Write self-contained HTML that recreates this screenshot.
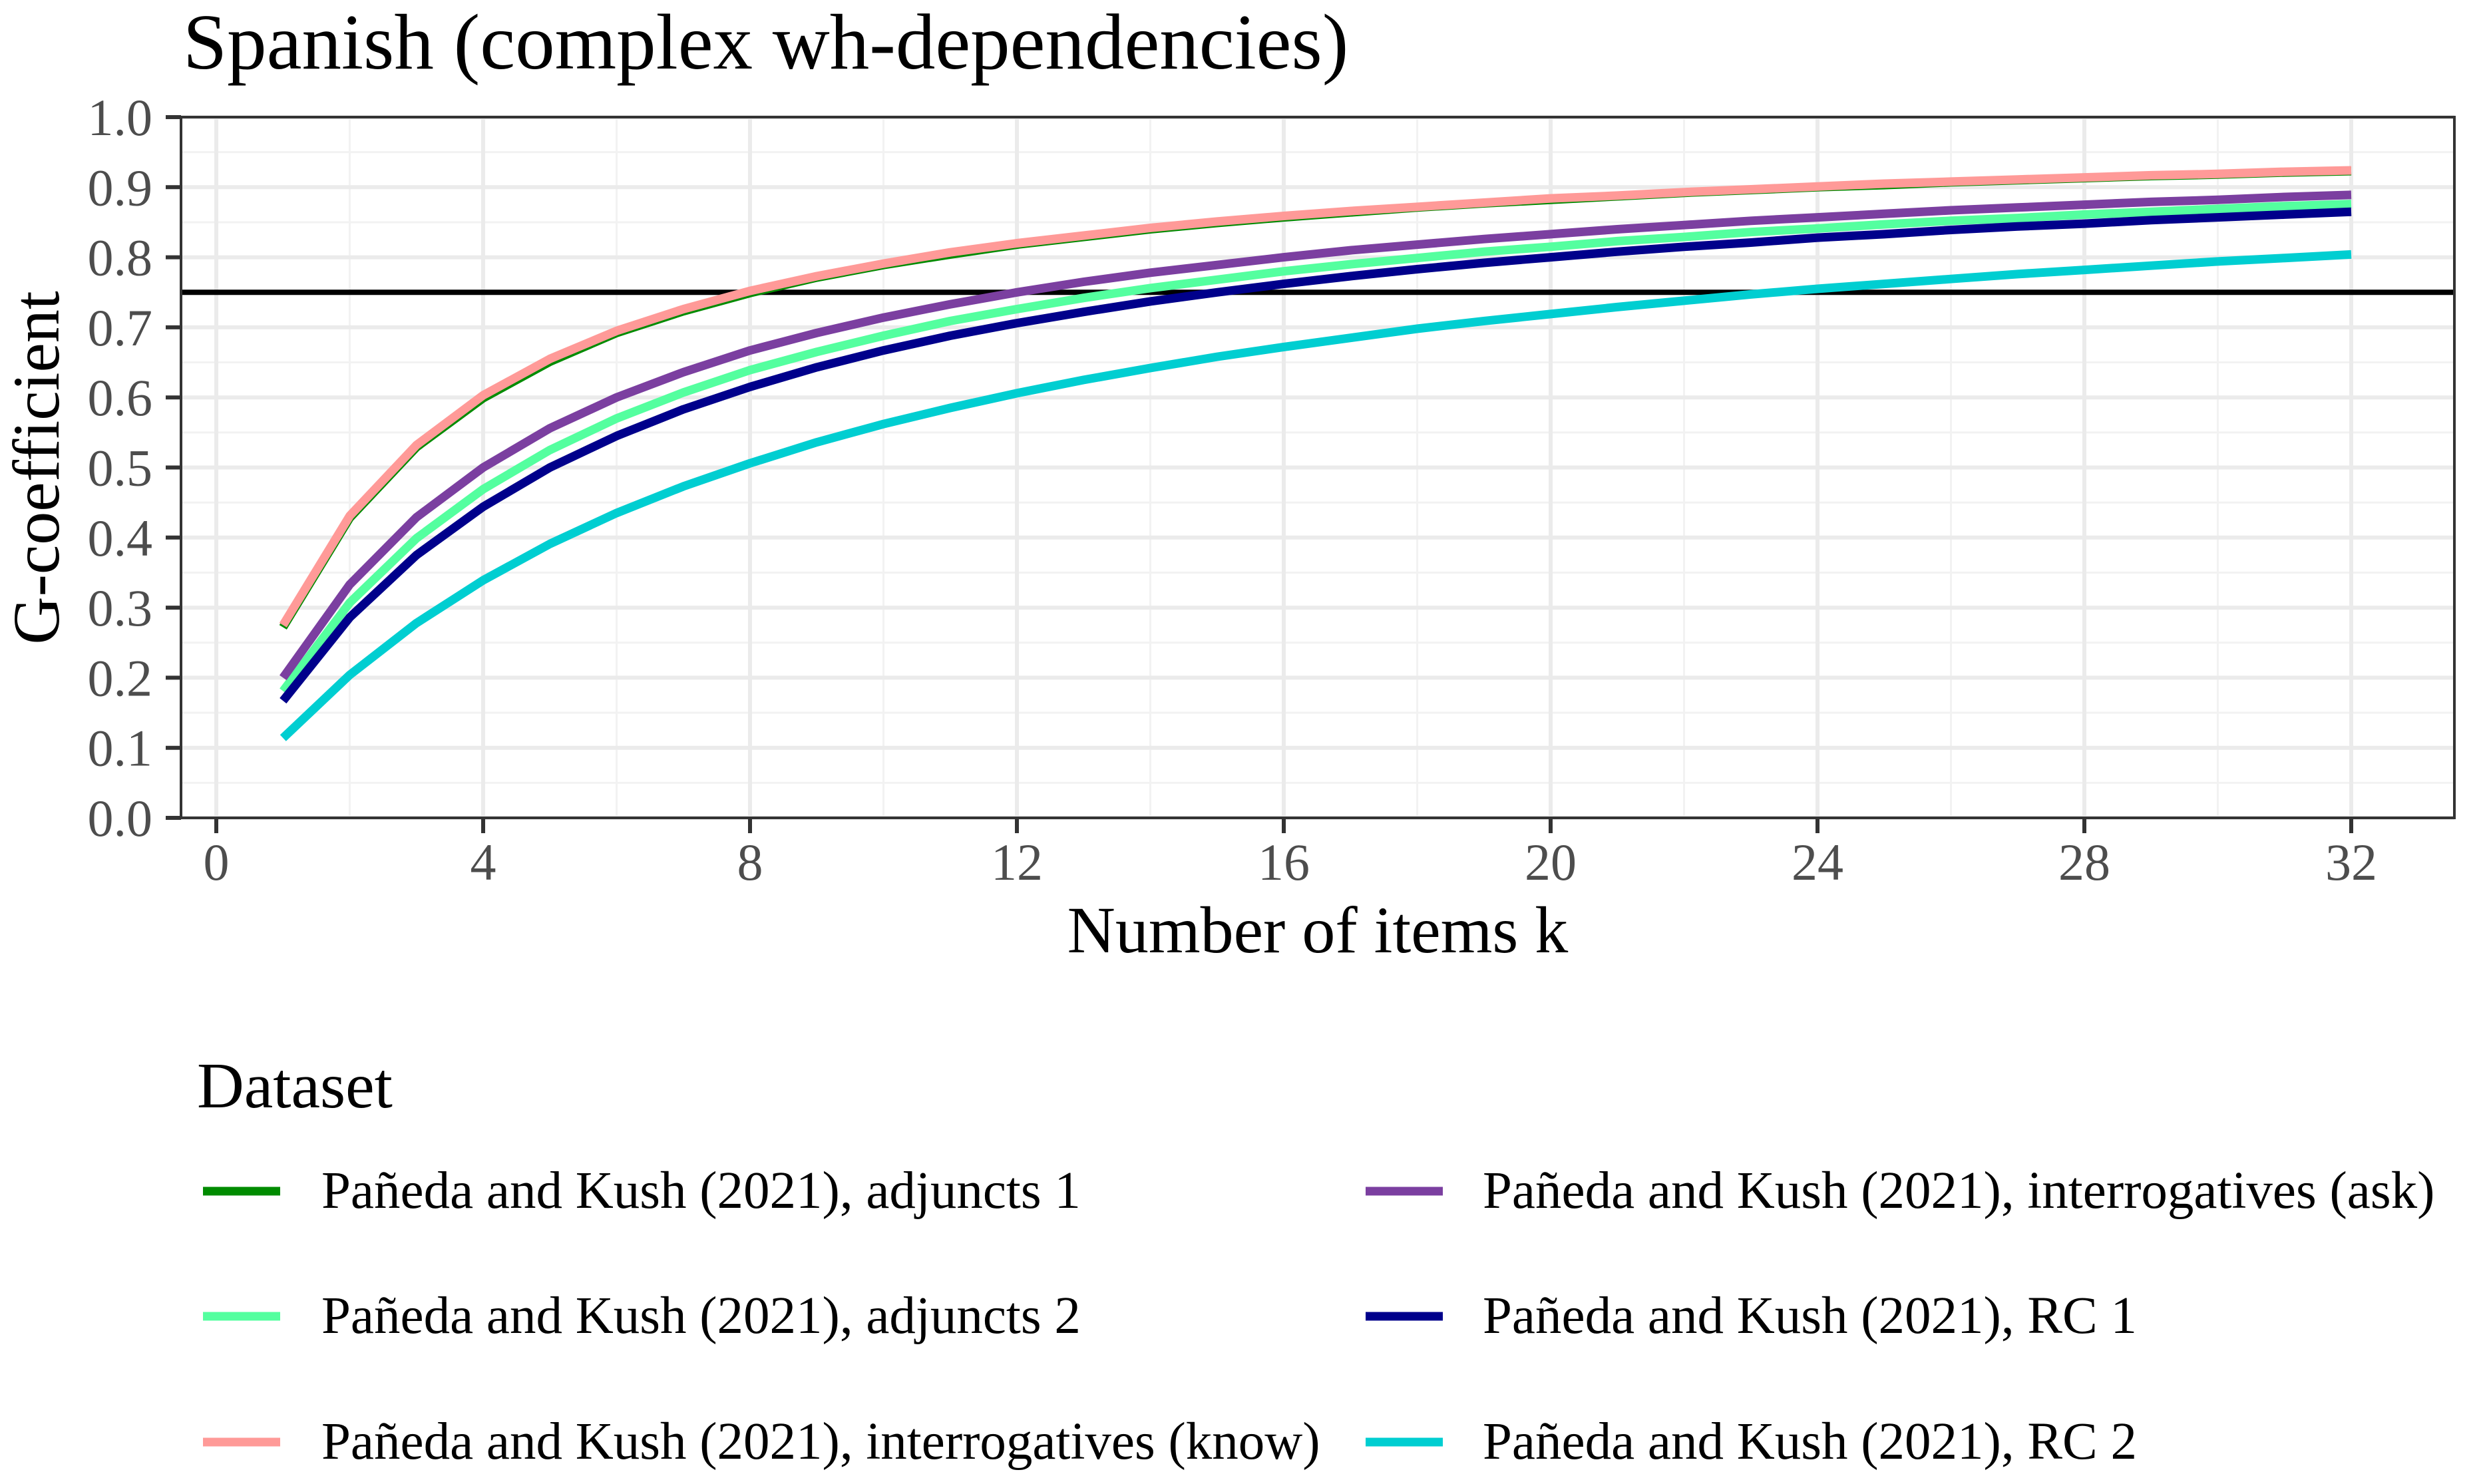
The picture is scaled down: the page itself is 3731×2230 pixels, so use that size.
<!DOCTYPE html>
<html><head><meta charset="utf-8"><style>
html,body{margin:0;padding:0;background:#fff;}
svg{display:block;}
text{font-family:"Liberation Serif","Times New Roman",serif;}
</style></head><body>
<svg id="chart" width="3731" height="2230" viewBox="0 0 3731 2230" xmlns="http://www.w3.org/2000/svg">
<rect width="3731" height="2230" fill="#fff"/>
<text x="275" y="103" font-size="119" fill="#000">Spanish (complex wh-dependencies)</text>
<g id="grid"></g>
<g id="series"></g>
<g id="axes"></g>
<text x="1980" y="1431" font-size="100" text-anchor="middle" fill="#000">Number of items k</text>
<text transform="translate(88,703) rotate(-90)" font-size="100" text-anchor="middle" fill="#000">G-coefficient</text>
<g id="legend">
<text x="296" y="1664" font-size="98" fill="#000">Dataset</text>
</g>
</svg>
<script>
const kValues = [1,2,3,4,5,6,7,8,9,10,11,12,13,14,15,16,17,18,19,20,21,22,23,24,25,26,27,28,29,30,31,32];
const adjuncts1 = [.272,.428,.529,.599,.651,.692,.723,.749,.771,.789,.804,.818,.829,.840,.849,.857,.864,.871,.877,.882,.887,.892,.896,.900,.903,.907,.910,.913,.916,.918,.921,.923];
const adjuncts2 = [.181,.307,.399,.469,.525,.570,.607,.639,.665,.688,.709,.726,.742,.756,.768,.780,.790,.799,.808,.815,.823,.829,.836,.841,.847,.852,.856,.861,.865,.869,.873,.876];
const interrogKnow = [.275,.431,.532,.603,.655,.695,.726,.752,.773,.791,.807,.820,.831,.842,.851,.859,.866,.872,.878,.884,.888,.893,.897,.901,.905,.908,.911,.914,.917,.919,.922,.924];
const interrogAsk = [.200,.333,.429,.500,.556,.600,.636,.667,.692,.714,.733,.750,.765,.778,.789,.800,.810,.818,.826,.833,.840,.846,.852,.857,.862,.867,.871,.875,.879,.882,.886,.889];
const rc1 = [.167,.286,.375,.444,.500,.545,.583,.615,.643,.667,.688,.706,.722,.737,.750,.762,.773,.783,.792,.800,.808,.815,.821,.828,.833,.839,.844,.848,.853,.857,.861,.865];
const rc2 = [.114,.204,.278,.339,.391,.435,.473,.506,.536,.562,.585,.606,.625,.642,.658,.672,.685,.698,.709,.719,.729,.738,.747,.755,.762,.769,.776,.782,.788,.794,.799,.804];
const xTicks = [0,4,8,12,16,20,24,28,32];
const xMinor = [2,6,10,14,18,22,26,30];
const yTicks = [0,0.1,0.2,0.3,0.4,0.5,0.6,0.7,0.8,0.9,1.0];
const yTickLabels = ["0.0","0.1","0.2","0.3","0.4","0.5","0.6","0.7","0.8","0.9","1.0"];
const yMinor = [0.05,0.15,0.25,0.35,0.45,0.55,0.65,0.75,0.85,0.95];
const threshold = 0.75;
const seriesNames = ["Pañeda and Kush (2021), adjuncts 1","Pañeda and Kush (2021), adjuncts 2","Pañeda and Kush (2021), interrogatives (know)","Pañeda and Kush (2021), interrogatives (ask)","Pañeda and Kush (2021), RC 1","Pañeda and Kush (2021), RC 2"];

const NS="http://www.w3.org/2000/svg";
const PL=272,PR=3688,PT=176,PB=1229;
const X0=325,XU=100.25;
function xs(v){return X0+v*XU;}
function ys(v){return PB-v*(PB-PT);}
function mk(tag,attrs,parent){const e=document.createElementNS(NS,tag);for(const k in attrs)e.setAttribute(k,attrs[k]);parent.appendChild(e);return e;}
const grid=document.getElementById('grid'),axes=document.getElementById('axes'),ser=document.getElementById('series'),leg=document.getElementById('legend');

mk('rect',{x:PL,y:PT,width:PR-PL,height:PB-PT,fill:'#fff'},grid);
yMinor.forEach(v=>{const l=mk('line',{x1:PL,x2:PR,y1:ys(v),y2:ys(v),stroke:'#F2F2F2','stroke-width':3},grid);

});
xMinor.forEach(v=>{const l=mk('line',{x1:xs(v),x2:xs(v),y1:PT,y2:PB,stroke:'#F2F2F2','stroke-width':3},grid);

});
yTicks.forEach(v=>{const l=mk('line',{x1:PL,x2:PR,y1:ys(v),y2:ys(v),stroke:'#EBEBEB','stroke-width':6},grid);

});
xTicks.forEach(v=>{const l=mk('line',{x1:xs(v),x2:xs(v),y1:PT,y2:PB,stroke:'#EBEBEB','stroke-width':6},grid);

});

const hl=mk('line',{x1:PL,x2:PR,y1:ys(threshold),y2:ys(threshold),stroke:'#000','stroke-width':8},grid);



const allSeries=[adjuncts1,adjuncts2,interrogAsk,rc1,rc2,interrogKnow];
const allColors=['#008B00','#54FF9F','#7B3FA0','#00008B','#00CED1','#FF9A98'];
const allIds=['adjuncts-1','adjuncts-2','interrogatives-ask','rc-1','rc-2','interrogatives-know'];
allSeries.forEach((arr,i)=>{
  const d=arr.map((v,j)=>(j?'L':'M')+xs(kValues[j]).toFixed(1)+','+ys(v).toFixed(1)).join(' ');
  const p=mk('path',{d:d,fill:'none',stroke:allColors[i],'stroke-width':13,'stroke-linejoin':'round'},ser);
  
  
});

const frame=mk('rect',{x:PL,y:PT,width:PR-PL,height:PB-PT,fill:'none',stroke:'#333','stroke-width':4},axes);


yTicks.forEach((v,i)=>{
  const t=mk('line',{x1:PL-23,x2:PL,y1:ys(v),y2:ys(v),stroke:'#333','stroke-width':6},axes);
  
  
  const tx=mk('text',{x:229,y:ys(v)+27,'font-size':78,'text-anchor':'end',fill:'#4D4D4D'},axes);
  tx.textContent=yTickLabels[i];
  
  
});
xTicks.forEach(v=>{
  const t=mk('line',{x1:xs(v),x2:xs(v),y1:PB,y2:PB+23,stroke:'#333','stroke-width':6},axes);
  
  
  const tx=mk('text',{x:xs(v),y:1322,'font-size':78,'text-anchor':'middle',fill:'#4D4D4D'},axes);
  tx.textContent=String(v);
  
  
});

const legColors=['#008B00','#54FF9F','#FF9A98','#7B3FA0','#00008B','#00CED1'];
const legIds=['adjuncts-1','adjuncts-2','interrogatives-know','interrogatives-ask','rc-1','rc-2'];
const rowY=[1790,1978,2167];
seriesNames.forEach((name,i)=>{
  const col=Math.floor(i/3),row=i%3;
  const kx=col?2052:305, tx=col?2228:483, cy=rowY[row];
  const g=mk('g',{},leg);
  
  
  const ln=mk('line',{x1:kx,x2:kx+116,y1:cy,y2:cy,stroke:legColors[i],'stroke-width':13},g);
  
  
  const t=mk('text',{x:tx,y:cy+25,'font-size':79,fill:'#000'},g);
  t.textContent=name;
  
  
});
</script>
</body></html>
